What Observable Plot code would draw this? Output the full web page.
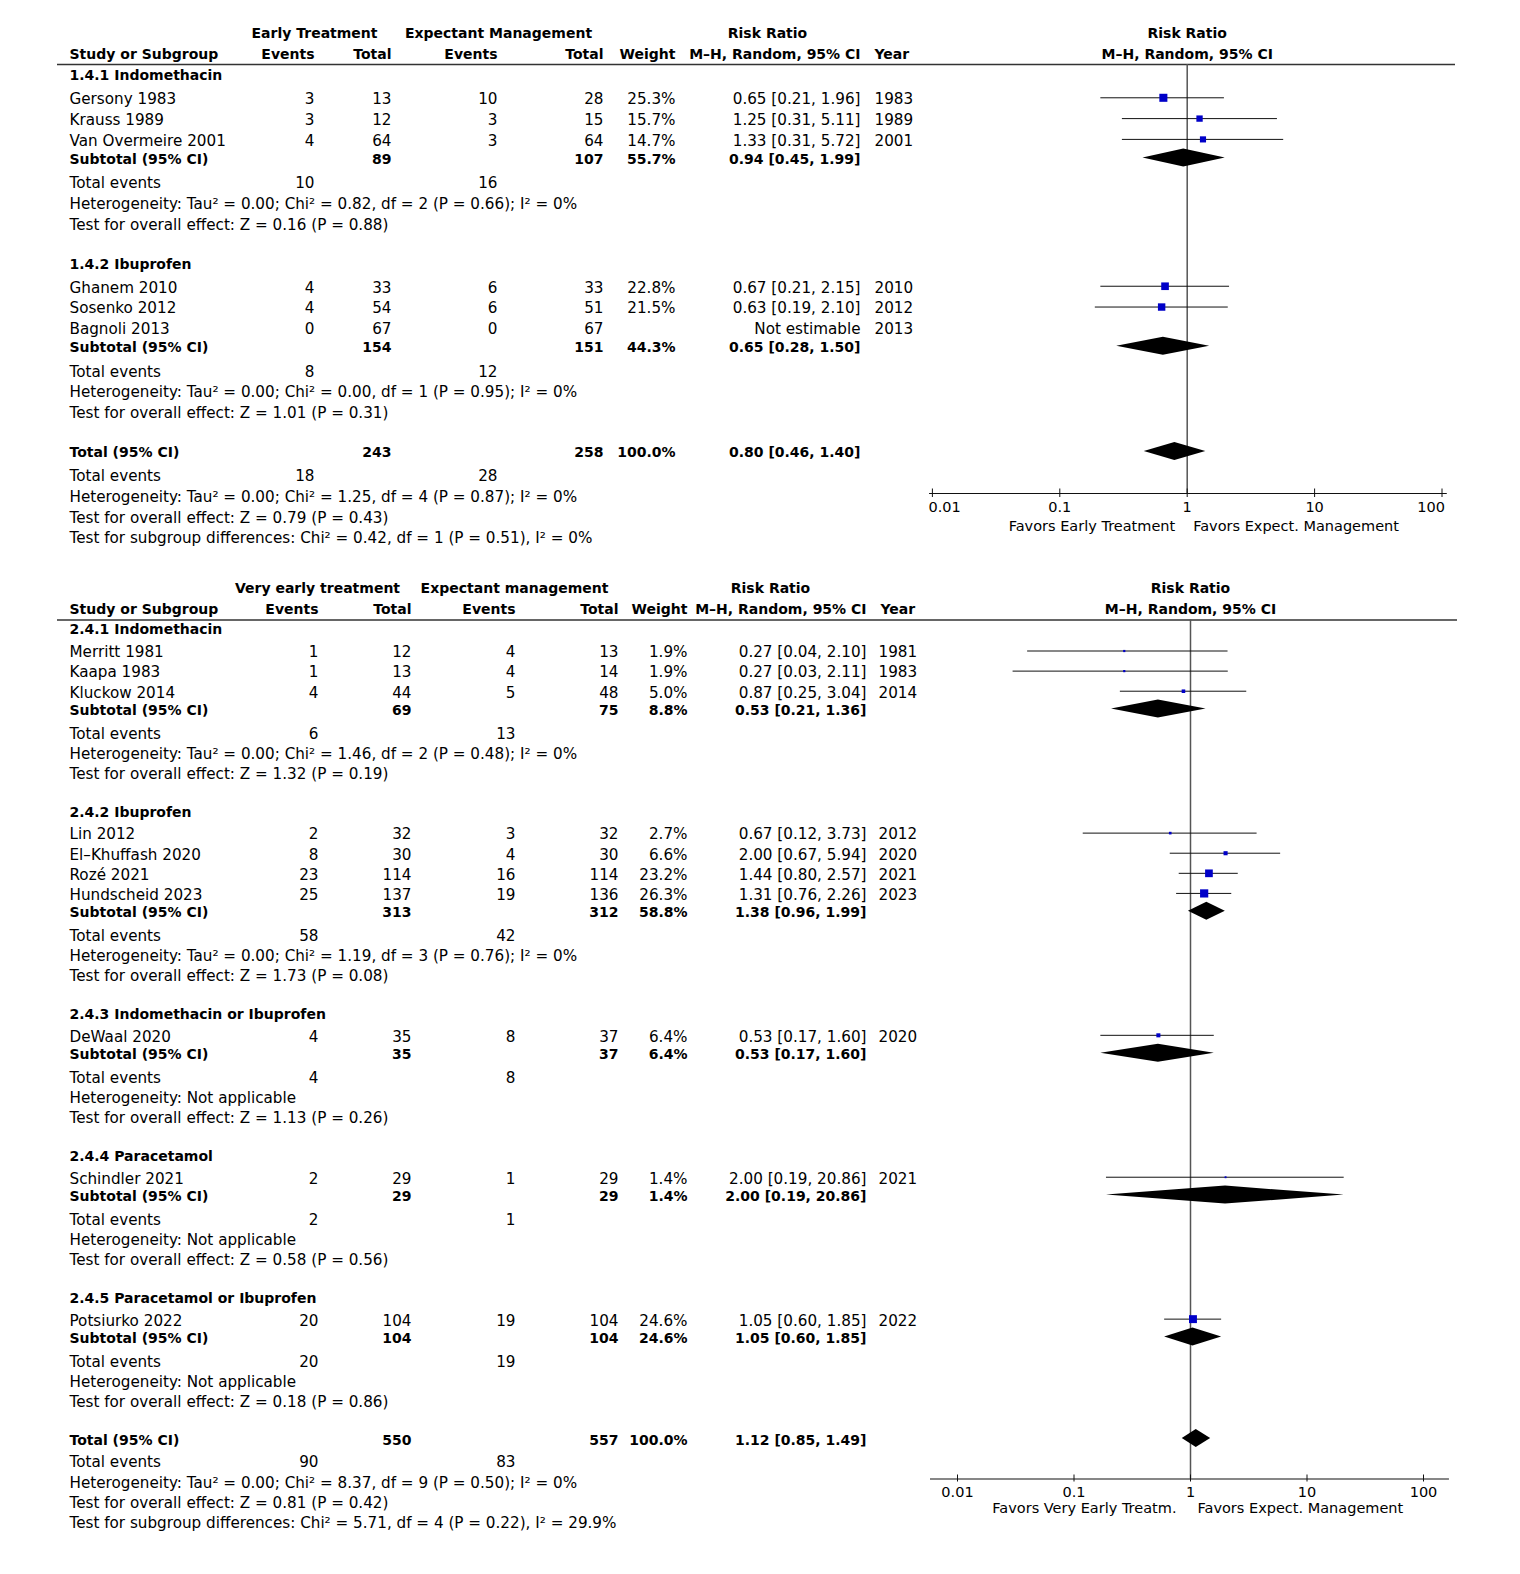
<!DOCTYPE html>
<html><head><meta charset="utf-8">
<script src="https://cdn.jsdelivr.net/npm/d3@7"></script>
<script src="https://cdn.jsdelivr.net/npm/@observablehq/plot@0.6"></script>
<style>
body{margin:0;background:#fff;}
#wrap{position:relative;width:1520px;height:1574px;background:#fff;overflow:hidden;}
#wrap svg{position:absolute;left:0;top:0;background:transparent !important;max-width:none !important;}
</style></head><body><div id="wrap"></div>
<script>
// ---------- Shared labels ----------
const headerSub = ["Study or Subgroup","Events","Total","Events","Total","Weight","M–H, Random, 95% CI","Year"];
const forestHead = ["Risk Ratio","M–H, Random, 95% CI"];
const axisTicks = [0.01, 0.1, 1, 10, 100];
const axisTickLabels = ["0.01","0.1","1","10","100"];

// ---------- Panel 1 data ----------
const p1HeadTop = ["Early Treatment","Expectant Management","Risk Ratio"];
const p1Favors = ["Favors Early Treatment","Favors Expect. Management"];
const p1Groups = ["1.4.1 Indomethacin","1.4.2 Ibuprofen"];
const p1Names = ["Gersony 1983","Krauss 1989","Van Overmeire 2001","Ghanem 2010","Sosenko 2012","Bagnoli 2013"];
const p1StudyGroup = [0,0,0,1,1,1];
const p1EtEvents = [3,3,4,4,4,0];
const p1EtTotals = [13,12,64,33,54,67];
const p1EmEvents = [10,3,3,6,6,0];
const p1EmTotals = [28,15,64,33,51,67];
const p1Weights = [25.3,15.7,14.7,22.8,21.5,null];
const p1RR = [0.65,1.25,1.33,0.67,0.63,null];
const p1Lo = [0.21,0.31,0.31,0.21,0.19,null];
const p1Hi = [1.96,5.11,5.72,2.15,2.10,null];
const p1Years = [1983,1989,2001,2010,2012,2013];
const p1SubEtEvents = [10,8];
const p1SubEmEvents = [16,12];
const p1SubEtTotals = [89,154];
const p1SubEmTotals = [107,151];
const p1SubWeights = [55.7,44.3];
const p1SubRR = [0.94,0.65];
const p1SubLo = [0.45,0.28];
const p1SubHi = [1.99,1.50];
const p1SubHet = ["Heterogeneity: Tau² = 0.00; Chi² = 0.82, df = 2 (P = 0.66); I² = 0%",
                  "Heterogeneity: Tau² = 0.00; Chi² = 0.00, df = 1 (P = 0.95); I² = 0%"];
const p1SubTest = ["Test for overall effect: Z = 0.16 (P = 0.88)","Test for overall effect: Z = 1.01 (P = 0.31)"];
const p1TotalCounts = [243,258];
const p1TotalEvents = [18,28];
const p1TotalEffect = [100.0,0.80,0.46,1.40]; // weight, RR, lo, hi
const p1TotalNotes = ["Heterogeneity: Tau² = 0.00; Chi² = 1.25, df = 4 (P = 0.87); I² = 0%",
                      "Test for overall effect: Z = 0.79 (P = 0.43)",
                      "Test for subgroup differences: Chi² = 0.42, df = 1 (P = 0.51), I² = 0%"];

// ---------- Panel 2 data ----------
const p2HeadTop = ["Very early treatment","Expectant management","Risk Ratio"];
const p2Favors = ["Favors Very Early Treatm.","Favors Expect. Management"];
const p2Groups = ["2.4.1 Indomethacin","2.4.2 Ibuprofen","2.4.3 Indomethacin or Ibuprofen","2.4.4 Paracetamol","2.4.5 Paracetamol or Ibuprofen"];
const p2Names = ["Merritt 1981","Kaapa 1983","Kluckow 2014","Lin 2012","El–Khuffash 2020","Rozé 2021","Hundscheid 2023","DeWaal 2020","Schindler 2021","Potsiurko 2022"];
const p2StudyGroup = [0,0,0,1,1,1,1,2,3,4];
const p2EtEvents = [1,1,4,2,8,23,25,4,2,20];
const p2EtTotals = [12,13,44,32,30,114,137,35,29,104];
const p2EmEvents = [4,4,5,3,4,16,19,8,1,19];
const p2EmTotals = [13,14,48,32,30,114,136,37,29,104];
const p2Weights = [1.9,1.9,5.0,2.7,6.6,23.2,26.3,6.4,1.4,24.6];
const p2RR = [0.27,0.27,0.87,0.67,2.00,1.44,1.31,0.53,2.00,1.05];
const p2Lo = [0.04,0.03,0.25,0.12,0.67,0.80,0.76,0.17,0.19,0.60];
const p2Hi = [2.10,2.11,3.04,3.73,5.94,2.57,2.26,1.60,20.86,1.85];
const p2Years = [1981,1983,2014,2012,2020,2021,2023,2020,2021,2022];
const p2SubEtEvents = [6,58,4,2,20];
const p2SubEmEvents = [13,42,8,1,19];
const p2SubEtTotals = [69,313,35,29,104];
const p2SubEmTotals = [75,312,37,29,104];
const p2SubWeights = [8.8,58.8,6.4,1.4,24.6];
const p2SubRR = [0.53,1.38,0.53,2.00,1.05];
const p2SubLo = [0.21,0.96,0.17,0.19,0.60];
const p2SubHi = [1.36,1.99,1.60,20.86,1.85];
const p2SubHet = ["Heterogeneity: Tau² = 0.00; Chi² = 1.46, df = 2 (P = 0.48); I² = 0%",
                  "Heterogeneity: Tau² = 0.00; Chi² = 1.19, df = 3 (P = 0.76); I² = 0%",
                  "Heterogeneity: Not applicable","Heterogeneity: Not applicable","Heterogeneity: Not applicable"];
const p2SubTest = ["Test for overall effect: Z = 1.32 (P = 0.19)","Test for overall effect: Z = 1.73 (P = 0.08)",
                   "Test for overall effect: Z = 1.13 (P = 0.26)","Test for overall effect: Z = 0.58 (P = 0.56)",
                   "Test for overall effect: Z = 0.18 (P = 0.86)"];
const p2TotalCounts = [550,557];
const p2TotalEvents = [90,83];
const p2TotalEffect = [100.0,1.12,0.85,1.49];
const p2TotalNotes = ["Heterogeneity: Tau² = 0.00; Chi² = 8.37, df = 9 (P = 0.50); I² = 0%",
                      "Test for overall effect: Z = 0.81 (P = 0.42)",
                      "Test for subgroup differences: Chi² = 5.71, df = 4 (P = 0.22), I² = 29.9%"];

// ---------- Layout ----------
const FONT = "DejaVu Sans";
const FS = 15.2, FSB = 14, FSA = 14.5, TDY = 1.5;
const W = 1520, H = 1574;
const fmtRR = (e,l,h) => `${e.toFixed(2)} [${l.toFixed(2)}, ${h.toFixed(2)}]`;
const fmtW = w => w.toFixed(1) + "%";
const SP = {groupStudy:1.12, studySub:0.89, subEvents:1.15, gap:1.9, totalEvents:1.12};

const P1 = {
  groups:p1Groups, names:p1Names, sg:p1StudyGroup, etEv:p1EtEvents, etTot:p1EtTotals, emEv:p1EmEvents, emTot:p1EmTotals,
  w:p1Weights, rr:p1RR, lo:p1Lo, hi:p1Hi, year:p1Years,
  sEtEv:p1SubEtEvents, sEmEv:p1SubEmEvents, sEtTot:p1SubEtTotals, sEmTot:p1SubEmTotals, sW:p1SubWeights,
  sRR:p1SubRR, sLo:p1SubLo, sHi:p1SubHi, sHet:p1SubHet, sTest:p1SubTest,
  tCounts:p1TotalCounts, tEvents:p1TotalEvents, tEff:p1TotalEffect, tNotes:p1TotalNotes,
  headTop:p1HeadTop, favors:p1Favors,
  firstY:74, u:20.8, headY:[32,53], ruleY:64, ruleX:[57,1455],
  cols:{name:69, etEv:314, etTot:391, emEv:497, emTot:603, weight:675, rr:860, year:874},
  headTopX:[314,498,767], yearHeadX:874,
  xRange:[931.9,1441.5], axisY:493, axisExt:[0.0095,110], tickUp:4.5, tickDown:4,
  labelY:507, favorsY:526, favorsGap:[12,6], labelAnchors:["start","middle","middle","middle","end"], labelDx:[-4,0,0,0,3]
};
const P2 = {
  groups:p2Groups, names:p2Names, sg:p2StudyGroup, etEv:p2EtEvents, etTot:p2EtTotals, emEv:p2EmEvents, emTot:p2EmTotals,
  w:p2Weights, rr:p2RR, lo:p2Lo, hi:p2Hi, year:p2Years,
  sEtEv:p2SubEtEvents, sEmEv:p2SubEmEvents, sEtTot:p2SubEtTotals, sEmTot:p2SubEmTotals, sW:p2SubWeights,
  sRR:p2SubRR, sLo:p2SubLo, sHi:p2SubHi, sHet:p2SubHet, sTest:p2SubTest,
  tCounts:p2TotalCounts, tEvents:p2TotalEvents, tEff:p2TotalEffect, tNotes:p2TotalNotes,
  headTop:p2HeadTop, favors:p2Favors,
  firstY:628, u:20.1, headY:[587,608], ruleY:619.5, ruleX:[57,1457],
  cols:{name:69, etEv:318, etTot:411, emEv:515, emTot:618, weight:687, rr:866, year:878},
  headTopX:[317,514,770], yearHeadX:880,
  xRange:[957,1423], axisY:1478.5, axisExt:[0.00586,167], tickUp:4, tickDown:3,
  labelY:1492, favorsY:1508, favorsGap:[14,7], labelAnchors:["middle","middle","middle","middle","middle"], labelDx:[0,0,0,0,0]
};

function layout(P) {
  const rows = [];
  let y = P.firstY;
  const push = r => rows.push({...r, y});
  P.groups.forEach((g, gi) => {
    if (gi > 0) y += SP.gap * P.u;
    push({name:g, bold:true});
    const idx = P.sg.map((s,i) => s === gi ? i : -1).filter(i => i >= 0);
    idx.forEach((i,k) => {
      y += (k === 0 ? SP.groupStudy : 1) * P.u;
      const est = P.rr[i];
      push({name:P.names[i], etEv:P.etEv[i], etTot:P.etTot[i], emEv:P.emEv[i], emTot:P.emTot[i],
            weight: P.w[i] == null ? null : fmtW(P.w[i]),
            rr: est == null ? "Not estimable" : fmtRR(est, P.lo[i], P.hi[i]),
            year:P.year[i], kind: est == null ? null : "study", est, lo:P.lo[i], hi:P.hi[i], w:P.w[i]});
    });
    y += SP.studySub * P.u;
    push({name:"Subtotal (95% CI)", bold:true, etTot:P.sEtTot[gi], emTot:P.sEmTot[gi], weight:fmtW(P.sW[gi]),
          rr:fmtRR(P.sRR[gi], P.sLo[gi], P.sHi[gi]), kind:"diamond", est:P.sRR[gi], lo:P.sLo[gi], hi:P.sHi[gi]});
    y += SP.subEvents * P.u;
    push({name:"Total events", etEv:P.sEtEv[gi], emEv:P.sEmEv[gi]});
    y += P.u; push({name:P.sHet[gi]});
    y += P.u; push({name:P.sTest[gi]});
  });
  y += SP.gap * P.u;
  push({name:"Total (95% CI)", bold:true, etTot:P.tCounts[0], emTot:P.tCounts[1], weight:fmtW(P.tEff[0]),
        rr:fmtRR(P.tEff[1], P.tEff[2], P.tEff[3]), kind:"diamond", est:P.tEff[1], lo:P.tEff[2], hi:P.tEff[3]});
  y += SP.totalEvents * P.u;
  push({name:"Total events", etEv:P.tEvents[0], emEv:P.tEvents[1]});
  P.tNotes.forEach(t => { y += P.u; push({name:t}); });
  return rows;
}

function panelCells(P, rows) {
  const C = P.cols, cells = [];
  const put = (x, y, text, anchor, bold) => {
    if (text !== null && text !== undefined && text !== "") cells.push({x, y, text:String(text), anchor, bold:!!bold});
  };
  P.headTop.forEach((t,i) => put(P.headTopX[i], P.headY[0], t, "middle", true));
  const hx = [C.name, C.etEv, C.etTot, C.emEv, C.emTot, C.weight, C.rr, P.yearHeadX];
  const ha = ["start","end","end","end","end","end","end","start"];
  headerSub.forEach((t,i) => put(hx[i], P.headY[1], t, ha[i], true));
  rows.forEach(r => {
    put(C.name, r.y, r.name, "start", r.bold);
    put(C.etEv, r.y, r.etEv, "end", r.bold);
    put(C.etTot, r.y, r.etTot, "end", r.bold);
    put(C.emEv, r.y, r.emEv, "end", r.bold);
    put(C.emTot, r.y, r.emTot, "end", r.bold);
    put(C.weight, r.y, r.weight, "end", r.bold);
    put(C.rr, r.y, r.rr, "end", r.bold);
    put(C.year, r.y, r.year, "start", false);
  });
  return cells;
}

const rows1 = layout(P1), rows2 = layout(P2);
const cells = [...panelCells(P1, rows1), ...panelCells(P2, rows2)];
const headerRules = [P1, P2].map(P => ({y:P.ruleY, x1:P.ruleX[0], x2:P.ruleX[1]}));

const textMarks = [];
for (const anchor of ["start","middle","end"]) for (const bold of [false,true]) {
  const sub = cells.filter(c => c.anchor === anchor && c.bold === bold);
  if (sub.length) textMarks.push(Plot.text(sub, {x:"x", y:"y", text:"text", textAnchor:anchor, lineAnchor:"middle", dy:TDY,
    fontFamily:FONT, fontSize: bold ? FSB : FS, fontWeight: bold ? "bold" : "normal", fill:"black"}));
}

const tablePlot = Plot.plot({
  width:W, height:H, margin:0,
  x:{domain:[0,W], range:[0,W], axis:null},
  y:{domain:[0,H], range:[0,H], axis:null},
  marks:[
    Plot.ruleY(headerRules, {y:"y", x1:"x1", x2:"x2", stroke:"#333", strokeWidth:1.5}),
    ...textMarks
  ]
});

function forestPlot(P, rows) {
  const studies = rows.filter(r => r.kind === "study");
  const diamonds = rows.filter(r => r.kind === "diamond").flatMap((r,i) => [
    {id:i, x:r.lo, y1:r.y, y2:r.y},
    {id:i, x:r.est, y1:r.y - 9, y2:r.y + 9},
    {id:i, x:r.hi, y1:r.y, y2:r.y}
  ]);
  const tickLabelMarks = axisTicks.map((t,i) => Plot.text([i], {x: j => axisTicks[j], y: () => P.labelY,
    text: j => axisTickLabels[j], textAnchor:P.labelAnchors[i], dx:P.labelDx[i], lineAnchor:"middle",
    fontFamily:FONT, fontSize:FSA, fill:"black"}));
  return Plot.plot({
    width:W, height:H, margin:0,
    x:{type:"log", domain:[0.01,100], range:P.xRange, axis:null},
    y:{domain:[0,H], range:[0,H], axis:null},
    r:{type:"sqrt", domain:[0,100], range:[0,9.03]},
    marks:[
      Plot.text(forestHead, {x: () => 1, y: (d,i) => P.headY[i], text: d => d, textAnchor:"middle", lineAnchor:"middle",
        dy:TDY, fontFamily:FONT, fontSize:FSB, fontWeight:"bold", fill:"black"}),
      Plot.ruleX([1], {y1: () => P.ruleY, y2: () => P.axisY, stroke:"#555", strokeWidth:1.5}),
      Plot.ruleY(studies, {y:"y", x1:"lo", x2:"hi", stroke:"#111", strokeWidth:1}),
      Plot.dot(studies, {x:"est", y:"y", r:"w", symbol:"square", fill:"#0000c8", stroke:"none"}),
      Plot.areaY(diamonds, {x:"x", y1:"y1", y2:"y2", z:"id", fill:"black", curve:"linear"}),
      Plot.ruleY([P.axisY], {x1: () => P.axisExt[0], x2: () => P.axisExt[1], stroke:"#111", strokeWidth:1.2}),
      Plot.ruleX(axisTicks, {x: d => d, y1: () => P.axisY - P.tickUp, y2: () => P.axisY + P.tickDown, stroke:"#111", strokeWidth:1}),
      ...tickLabelMarks,
      Plot.text([P.favors[0]], {x: () => 1, y: () => P.favorsY, text: d => d, textAnchor:"end", dx:-P.favorsGap[0],
        lineAnchor:"middle", fontFamily:FONT, fontSize:FSA, fill:"black"}),
      Plot.text([P.favors[1]], {x: () => 1, y: () => P.favorsY, text: d => d, textAnchor:"start", dx:P.favorsGap[1],
        lineAnchor:"middle", fontFamily:FONT, fontSize:FSA, fill:"black"})
    ]
  });
}

const wrap = document.getElementById("wrap");
wrap.appendChild(tablePlot);
wrap.appendChild(forestPlot(P1, rows1));
wrap.appendChild(forestPlot(P2, rows2));
</script></body></html>
